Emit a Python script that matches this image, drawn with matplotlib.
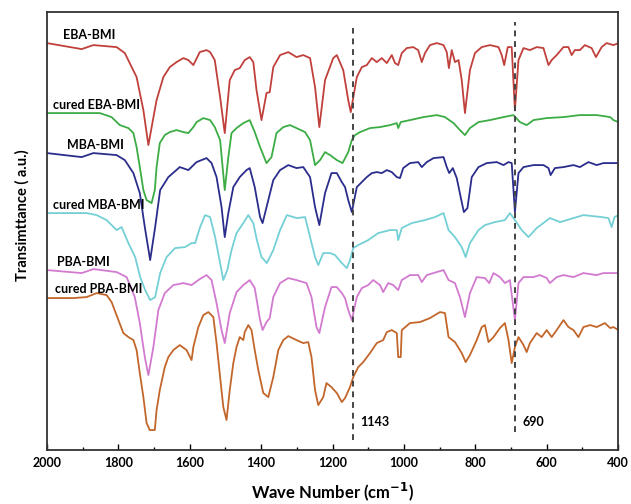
import matplotlib.pyplot as plt

# wavenumber (cm-1) / offset transmittance (a.u.)
eba_wn = [2000, 1903, 1870, 1805, 1782, 1749, 1730, 1716, 1693, 1674, 1656, 1637, 1618, 1604, 1590,
          1572, 1553, 1543, 1530, 1515, 1502, 1488, 1474, 1460, 1446, 1432, 1422, 1413, 1399, 1385,
          1376, 1366, 1347, 1324, 1301, 1282, 1263, 1249, 1237, 1221, 1198, 1188, 1170, 1156, 1149,
          1132, 1118, 1104, 1090, 1076, 1062, 1048, 1034, 1025, 1016, 1006, 992, 974, 960, 950, 941,
          927, 908, 889, 880, 874, 866, 857, 847, 838, 829, 815, 801, 782, 759, 735, 726, 719, 709,
          698, 689, 679, 665, 647, 628, 609, 595, 586, 572, 553, 539, 530, 521, 507, 493, 474, 462,
          446, 432, 413, 399]
eba_t = [4.07, 4.01, 4.05, 4.03, 3.97, 3.73, 3.40, 3.05, 3.50, 3.73, 3.83, 3.88, 3.92, 3.90, 3.85,
         3.98, 4.00, 3.98, 3.90, 3.53, 3.17, 3.70, 3.80, 3.82, 3.90, 3.93, 3.88, 3.60, 3.30, 3.57,
         3.58, 3.83, 3.95, 3.98, 3.93, 3.95, 3.92, 3.63, 3.23, 3.70, 3.92, 3.95, 3.80, 3.50, 3.38,
         3.73, 3.83, 3.85, 3.92, 3.88, 3.92, 3.87, 3.95, 3.87, 3.85, 3.97, 4.02, 4.03, 4.00, 3.88, 3.97,
         4.05, 4.07, 4.05, 3.98, 3.82, 4.00, 3.88, 3.90, 3.70, 3.37, 3.80, 3.97, 4.03, 4.05, 4.03, 3.95, 3.85, 4.03,
         4.03, 3.40, 3.90, 4.02, 4.00, 4.03, 4.02, 3.85, 3.90, 3.95, 4.03, 4.03, 3.95, 4.00, 4.00, 4.05, 4.02, 3.93,
         4.03, 4.07, 4.05, 4.07]

ceba_wn = [2000, 1852, 1819, 1796, 1772, 1758, 1749, 1740, 1730, 1721, 1707, 1698, 1693, 1684, 1670,
           1656, 1637, 1618, 1604, 1590, 1581, 1562, 1543, 1530, 1515, 1508, 1502, 1492, 1483, 1469,
           1450, 1432, 1418, 1403, 1385, 1371, 1357, 1338, 1319, 1301, 1277, 1263, 1249, 1235, 1221,
           1207, 1188, 1172, 1156, 1146, 1137, 1123, 1095, 1067, 1039, 1020, 1016, 1009, 983, 945, 908,
           885, 861, 843, 829, 815, 791, 759, 721, 693, 675, 656, 637, 600, 553, 507, 460, 422, 413, 399]
ceba_t = [3.37, 3.37, 3.33, 3.25, 3.22, 3.17, 3.03, 2.83, 2.60, 2.50, 2.47, 2.60, 2.83, 3.07, 3.15,
          3.18, 3.20, 3.18, 3.17, 3.23, 3.28, 3.32, 3.30, 3.23, 3.10, 2.83, 2.60, 2.93, 3.17, 3.22,
          3.27, 3.30, 3.18, 3.03, 2.87, 2.93, 3.17, 3.23, 3.25, 3.22, 3.18, 3.10, 2.85, 2.90, 2.98,
          2.95, 2.90, 2.87, 2.98, 3.10, 3.15, 3.18, 3.22, 3.23, 3.25, 3.27, 3.22, 3.28, 3.30, 3.33, 3.35,
          3.33, 3.27, 3.20, 3.15, 3.22, 3.28, 3.30, 3.33, 3.35, 3.28, 3.25, 3.30, 3.32, 3.33, 3.35, 3.35, 3.33, 3.30, 3.28]

mba_wn = [2000, 1903, 1870, 1805, 1782, 1758, 1740, 1726, 1711, 1697, 1683, 1660, 1628, 1604, 1581,
          1553, 1539, 1525, 1511, 1502, 1492, 1478, 1460, 1441, 1432, 1418, 1403, 1396, 1380, 1366,
          1347, 1324, 1301, 1282, 1263, 1249, 1237, 1221, 1203, 1188, 1174, 1165, 1156, 1146, 1132,
          1118, 1104, 1090, 1076, 1062, 1048, 1034, 1020, 1011, 1002, 983, 960, 950, 936, 917, 889,
          880, 873, 863, 852, 841, 832, 822, 810, 791, 768, 740, 721, 707, 698, 689, 679, 665, 637,
          609, 595, 589, 577, 553, 525, 507, 483, 460, 441, 399]
mba_t = [2.97, 2.93, 2.97, 2.95, 2.90, 2.77, 2.57, 2.23, 1.90, 2.23, 2.60, 2.73, 2.83, 2.80, 2.88,
         2.92, 2.87, 2.73, 2.43, 2.13, 2.37, 2.63, 2.73, 2.80, 2.82, 2.63, 2.33, 2.27, 2.50, 2.70,
         2.80, 2.85, 2.82, 2.83, 2.73, 2.43, 2.25, 2.57, 2.77, 2.77, 2.68, 2.63, 2.50, 2.38, 2.63,
         2.68, 2.73, 2.77, 2.78, 2.77, 2.80, 2.78, 2.73, 2.72, 2.82, 2.87, 2.88, 2.83, 2.88, 2.92, 2.93,
         2.83, 2.77, 2.82, 2.72, 2.53, 2.38, 2.42, 2.73, 2.83, 2.87, 2.88, 2.85, 2.88, 2.87, 2.38, 2.77, 2.83, 2.85,
         2.85, 2.82, 2.75, 2.82, 2.83, 2.85, 2.83, 2.88, 2.85, 2.87, 2.87]

cmba_wn = [2000, 1889, 1861, 1833, 1805, 1791, 1772, 1753, 1739, 1725, 1711, 1697, 1683, 1665, 1641,
           1613, 1595, 1585, 1571, 1557, 1543, 1529, 1515, 1506, 1495, 1483, 1469, 1450, 1436, 1422,
           1412, 1399, 1384, 1366, 1347, 1328, 1300, 1277, 1263, 1249, 1240, 1226, 1207, 1193, 1174,
           1160, 1151, 1142, 1128, 1100, 1072, 1039, 1020, 1016, 1006, 978, 941, 913, 889, 875, 857,
           838, 827, 815, 791, 773, 745, 717, 703, 689, 670, 651, 628, 591, 562, 525, 497, 446, 427,
           418, 410, 399]
cmba_t = [2.37, 2.37, 2.35, 2.30, 2.20, 2.23, 2.07, 1.93, 1.73, 1.60, 1.50, 1.53, 1.77, 1.93, 2.02,
          2.03, 2.07, 2.07, 2.23, 2.35, 2.33, 2.13, 1.87, 1.70, 1.80, 2.00, 2.17, 2.27, 2.35, 2.27,
          2.10, 1.93, 1.87, 2.00, 2.20, 2.35, 2.32, 2.33, 2.13, 1.93, 1.85, 1.97, 1.97, 1.95, 1.87,
          1.82, 1.90, 2.02, 2.05, 2.10, 2.17, 2.20, 2.20, 2.10, 2.22, 2.27, 2.30, 2.33, 2.37, 2.20, 2.13,
          2.03, 1.93, 2.07, 2.20, 2.25, 2.28, 2.30, 2.37, 2.30, 2.20, 2.13, 2.22, 2.32, 2.28, 2.32, 2.35, 2.33, 2.32,
          2.23, 2.33, 2.35]

pba_wn = [2000, 1903, 1870, 1805, 1777, 1754, 1740, 1726, 1716, 1702, 1688, 1670, 1646, 1618, 1595,
          1572, 1553, 1539, 1525, 1511, 1502, 1488, 1469, 1450, 1432, 1418, 1403, 1396, 1385, 1376,
          1366, 1347, 1324, 1301, 1273, 1259, 1245, 1237, 1221, 1203, 1188, 1174, 1165, 1156, 1146,
          1132, 1118, 1100, 1086, 1067, 1058, 1044, 1030, 1016, 1006, 983, 960, 950, 936, 908, 889,
          875, 857, 843, 829, 815, 796, 773, 761, 749, 731, 717, 703, 689, 679, 665, 637, 619, 600,
          591, 572, 553, 525, 497, 460, 441, 399]
pba_t = [1.80, 1.77, 1.81, 1.78, 1.73, 1.53, 1.27, 0.93, 0.75, 1.03, 1.40, 1.57, 1.65, 1.67, 1.65,
         1.71, 1.75, 1.70, 1.47, 1.20, 1.07, 1.37, 1.58, 1.65, 1.70, 1.62, 1.30, 1.20, 1.28, 1.32,
         1.53, 1.67, 1.72, 1.70, 1.67, 1.53, 1.23, 1.17, 1.43, 1.63, 1.63, 1.57, 1.52, 1.40, 1.30,
         1.53, 1.62, 1.65, 1.70, 1.65, 1.58, 1.67, 1.65, 1.60, 1.70, 1.75, 1.75, 1.68, 1.75, 1.78, 1.80,
         1.70, 1.67, 1.53, 1.33, 1.57, 1.73, 1.72, 1.67, 1.77, 1.73, 1.67, 1.70, 1.30, 1.67, 1.73, 1.73, 1.75, 1.72,
         1.67, 1.73, 1.75, 1.73, 1.77, 1.75, 1.77, 1.77]

cpba_wn = [2000, 1926, 1889, 1861, 1833, 1819, 1800, 1786, 1772, 1758, 1749, 1740, 1730, 1721, 1712,
           1698, 1693, 1684, 1670, 1660, 1646, 1628, 1609, 1595, 1590, 1576, 1562, 1548, 1534, 1525,
           1515, 1506, 1497, 1488, 1478, 1469, 1460, 1450, 1446, 1436, 1427, 1418, 1408, 1394, 1380,
           1366, 1352, 1338, 1324, 1301, 1282, 1268, 1259, 1249, 1240, 1226, 1217, 1203, 1188, 1174,
           1165, 1151, 1142, 1128, 1114, 1095, 1076, 1058, 1048, 1034, 1020, 1016, 1009, 1006, 983, 955,
           927, 899, 885, 875, 857, 838, 827, 815, 796, 782, 773, 763, 749, 731, 717, 707, 698, 689,
           679, 665, 656, 647, 628, 614, 600, 586, 572, 553, 539, 525, 511, 497, 478, 460, 437, 422,
           413, 399]
cpba_t = [1.52, 1.52, 1.53, 1.57, 1.55, 1.48, 1.30, 1.17, 1.13, 1.10, 1.00, 0.77, 0.53, 0.27, 0.20,
          0.20, 0.40, 0.60, 0.83, 0.93, 1.00, 1.05, 1.00, 0.90, 1.03, 1.23, 1.35, 1.38, 1.33, 1.07,
          0.73, 0.43, 0.30, 0.60, 0.87, 1.03, 1.13, 1.10, 1.18, 1.25, 1.20, 1.00, 0.80, 0.57, 0.53,
          0.73, 1.00, 1.10, 1.14, 1.10, 1.07, 1.08, 0.93, 0.60, 0.45, 0.53, 0.67, 0.63, 0.57, 0.48,
          0.52, 0.63, 0.73, 0.83, 0.88, 0.97, 1.07, 1.10, 1.18, 1.20, 1.17, 0.93, 0.93, 1.20, 1.27, 1.28,
          1.32, 1.38, 1.37, 1.13, 1.08, 0.97, 0.88, 0.95, 1.10, 1.23, 1.25, 1.08, 1.13, 1.22, 1.27, 1.10, 0.87, 1.03,
          1.13, 1.05, 0.98, 1.07, 1.17, 1.13, 1.20, 1.13, 1.20, 1.30, 1.23, 1.20, 1.13, 1.23, 1.25, 1.23, 1.27, 1.22,
          1.23, 1.20]

names = ["EBA-BMI", "cured EBA-BMI", "MBA-BMI", "cured MBA-BMI", "PBA-BMI", "cured PBA-BMI"]
label_wn = [1955, 1983, 1944, 1983, 1972, 1978]
label_t = [4.15, 3.45, 3.05, 2.45, 1.88, 1.61]
marked_wn = [1143, 690]

colors = ["#c0403c", "#3cac45", "#2b2d8c", "#74d0d6", "#d27ad0", "#c2662a"]

plt.rcParams['font.family'] = ['Lato', 'DejaVu Sans']
plt.rcParams['font.weight'] = 'bold'

fig = plt.figure(figsize=(6.31, 5.04), dpi=100)
ax = fig.add_axes([0.0745, 0.107, 0.905, 0.869])

series = [(eba_wn, eba_t), (ceba_wn, ceba_t), (mba_wn, mba_t),
          (cmba_wn, cmba_t), (pba_wn, pba_t), (cpba_wn, cpba_t)]
for i, (wn, t) in enumerate(series):
    ax.plot(wn, t, color=colors[i], lw=1.3)
    ax.text(label_wn[i], label_t[i], names[i], fontsize=9, fontweight='bold',
            va='center', ha='left')

ax.vlines(marked_wn[0], 0.10, 4.22, colors='#444444', linestyles=(0, (3, 2.5)), lw=1.4)
ax.vlines(marked_wn[1], 0.18, 4.28, colors='#444444', linestyles=(0, (3, 2.5)), lw=1.4)
ax.text(1122, 0.28, "1143", fontsize=9, fontweight='bold', va='center')
ax.text(668, 0.28, "690", fontsize=9, fontweight='bold', va='center')

ax.set_xlim(2000, 400)
ax.set_ylim(0, 4.38)
ax.set_xticks(range(2000, 399, -200))
ax.set_xticks(range(1900, 400, -200), minor=True)
ax.set_yticks([])
ax.tick_params(axis='x', direction='in', length=4, width=1, labelsize=9, pad=5)
ax.tick_params(axis='x', which='minor', direction='in', length=2.5, width=1)
for s in ax.spines.values():
    s.set_color('#333333')
    s.set_linewidth(1.3)

ax.set_xlabel("Wave Number (cm$^{\\mathbf{-1}}$)", fontsize=12, fontweight='bold', labelpad=8)
ax.set_ylabel("Transimttance ( a.u.)", fontsize=10.5, fontweight='bold')
ax.yaxis.set_label_coords(-0.031, 0.537)

fig.savefig("out.png", dpi=100)
